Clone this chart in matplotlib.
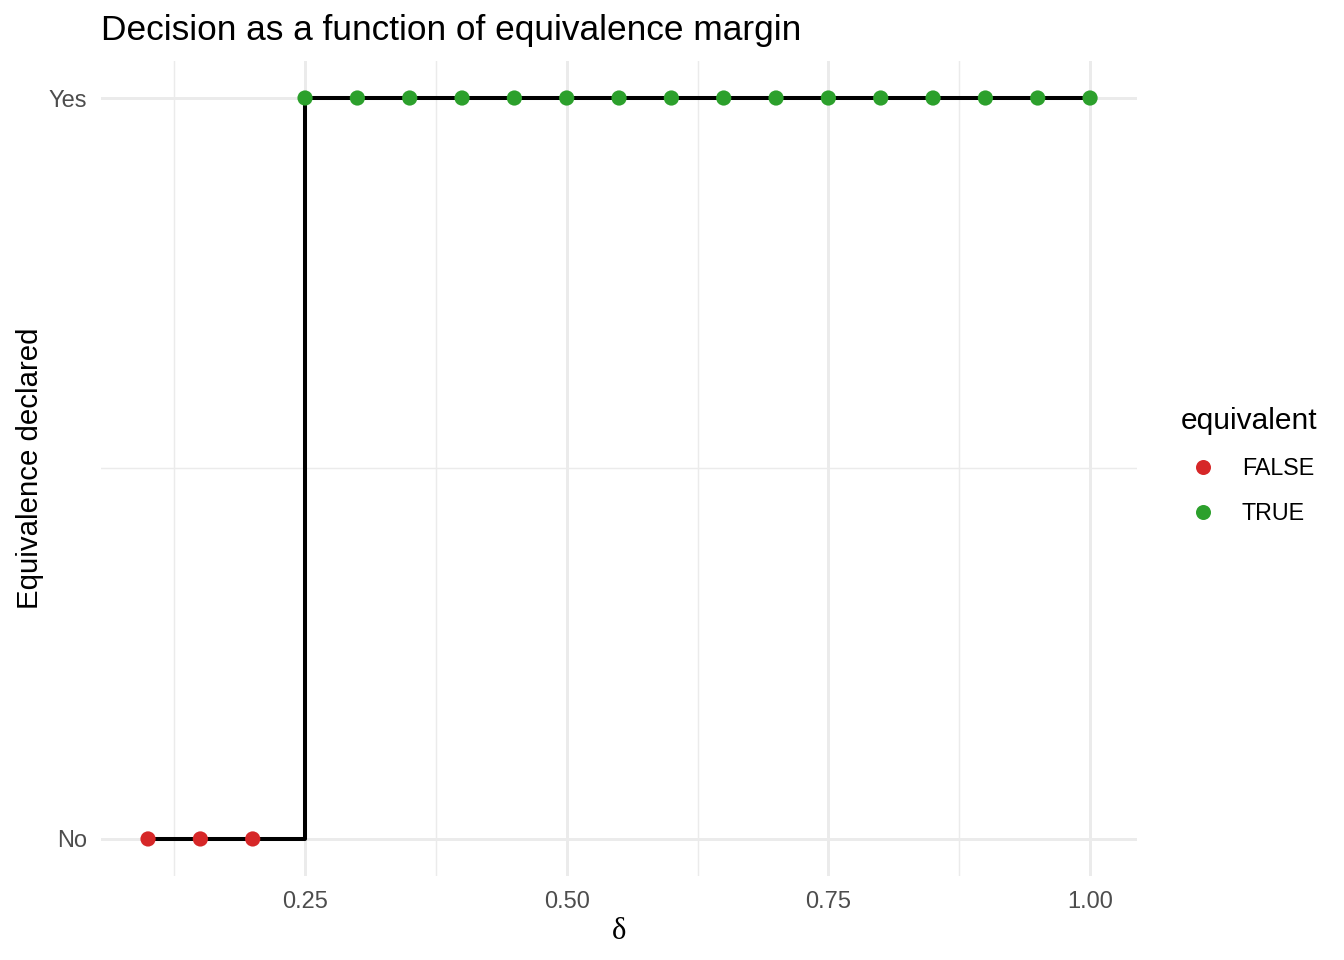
import numpy as np
import matplotlib.pyplot as plt
from matplotlib.lines import Line2D

# equivalence margins and the decision at each one
delta = [0.10, 0.15, 0.20, 0.25, 0.30, 0.35, 0.40, 0.45, 0.50, 0.55,
         0.60, 0.65, 0.70, 0.75, 0.80, 0.85, 0.90, 0.95, 1.00]
equivalent = [False, False, False] + [True] * 16
ytick_labels = ["No", "Yes"]
xticks = [0.25, 0.50, 0.75, 1.00]

red = "#D62728"
green = "#2CA02C"

delta = np.array(delta)
dec = np.array(equivalent).astype(int)

plt.rcParams['font.family'] = ['Liberation Sans', 'DejaVu Sans']
fig = plt.figure(figsize=(6.72, 4.8), dpi=200)
ax = fig.add_axes([0.0751, 0.0875, 0.771, 0.849])

# step line, then the points on top
ax.step(delta, dec, where="post", color="black", lw=1.45, zorder=3)
cols = [green if e else red for e in equivalent]
ax.scatter(delta, dec, s=30, c=cols, linewidths=0, zorder=4)

ax.set_xlim(0.055, 1.045)
ax.set_ylim(-0.05, 1.05)

# ggplot minimal style grid
ax.set_xticks(xticks)
ax.set_xticklabels(["0.25", "0.50", "0.75", "1.00"])
ax.set_yticks([0, 1])
ax.set_yticklabels(ytick_labels)
ax.set_xticks([0.125, 0.375, 0.625, 0.875], minor=True)
ax.set_yticks([0.5], minor=True)
ax.grid(which="major", color="#EBEBEB", lw=1.07, zorder=0)
ax.grid(which="minor", color="#EBEBEB", lw=0.53, zorder=0)
ax.tick_params(which="both", length=0, labelsize=8.5, labelcolor="#4D4D4D")
ax.tick_params(axis="x", pad=5.5)
ax.tick_params(axis="y", pad=5)
for s in ax.spines.values():
    s.set_visible(False)

ax.set_xlabel("δ", family=['Liberation Serif', 'DejaVu Serif'], fontsize=11, labelpad=1.3)
ax.set_ylabel("Equivalence declared", fontsize=10.6, labelpad=1.5)
fig.text(0.0751, 0.951, "Decision as a function of equivalence margin", fontsize=12.7,
         ha="left", va="bottom")

handles = [Line2D([], [], ls="", marker="o", ms=5.4, mfc=red, mec="none"),
           Line2D([], [], ls="", marker="o", ms=5.4, mfc=green, mec="none")]
leg = fig.legend(handles, ["FALSE", "TRUE"], title="equivalent", loc="upper left",
                 bbox_to_anchor=(0.8787, 0.576), frameon=False, fontsize=8.4,
                 title_fontsize=10.75, handlelength=1.9, handletextpad=0.71,
                 labelspacing=0.95, borderpad=0, borderaxespad=0)
leg._legend_box.align = "left"

fig.savefig("out.png", dpi=200)
